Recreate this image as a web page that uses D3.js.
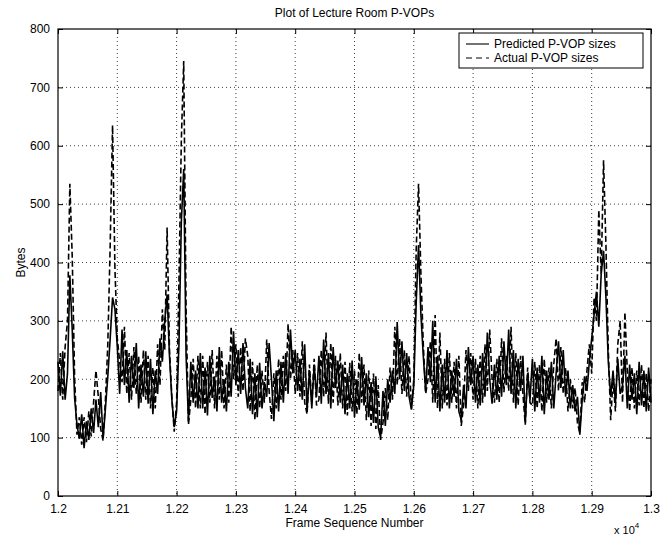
<!DOCTYPE html>
<html>
<head>
<meta charset="utf-8">
<script src="https://cdn.jsdelivr.net/npm/d3@7"></script>
<style>
  body { margin: 0; background: #fff; }
  text { font-family: "Liberation Sans", Arial, Helvetica, sans-serif; fill: #000; }
</style>
</head>
<body>
<svg id="chart" width="666" height="538"></svg>
<script>
// Frame sequence numbers: one sample every 4 frames from 12000 to 13000
const frameStart = 12000, frameEnd = 13000, frameStep = 4;

// Predicted P-VOP sizes (bytes)
const predicted = [
  230, 172, 248, 165, 210, 378, 285, 168, 122, 98,
  140, 82, 128, 96, 150, 108, 165, 118, 178, 98,
  150, 205, 270, 340, 320, 255, 175, 285, 190, 250,
  160, 240, 185, 262, 150, 225, 170, 248, 158, 235,
  140, 215, 175, 270, 230, 300, 345, 240, 165, 118,
  145, 260, 470, 560, 240, 128, 230, 160, 215, 150,
  245, 150, 220, 138, 240, 168, 205, 145, 255, 160,
  200, 145, 230, 170, 282, 190, 250, 175, 262, 185,
  150, 235, 140, 210, 135, 228, 150, 195, 170, 262,
  200, 128, 215, 145, 230, 160, 245, 175, 285, 210,
  250, 180, 235, 165, 260, 145, 215, 150, 225, 170,
  240, 158, 268, 175, 245, 150, 255, 185, 232, 160,
  225, 140, 210, 150, 232, 135, 200, 148, 238, 155,
  210, 135, 195, 125, 205, 118, 100, 180, 120, 200,
  160, 215, 175, 298, 200, 265, 180, 245, 170, 148,
  190, 330, 430, 310, 240, 180, 255, 195, 300, 160,
  240, 145, 225, 160, 250, 150, 215, 170, 235, 145,
  130, 190, 150, 255, 190, 240, 160, 225, 155, 245,
  170, 280, 200, 158, 225, 165, 240, 170, 265, 190,
  285, 175, 250, 150, 235, 180, 240, 125, 210, 165,
  235, 145, 220, 160, 240, 140, 215, 165, 230, 150,
  210, 265, 185, 250, 170, 215, 150, 190, 145, 170,
  105, 165, 205, 180, 230, 270, 310, 350, 290, 380,
  420, 340, 230, 170, 215, 160, 235, 175, 190, 240,
  150, 225, 165, 210, 140, 230, 155, 215, 145, 220,
  160
];

// Actual P-VOP sizes (bytes)
const actual = [
  180, 245, 165, 255, 300, 535, 410, 205, 105, 135,
  88, 135, 92, 145, 102, 160, 215, 170, 115, 95,
  165, 260, 430, 635, 390, 270, 230, 195, 290, 175,
  245, 165, 255, 175, 240, 160, 250, 165, 240, 150,
  220, 150, 260, 190, 320, 250, 460, 250, 170, 110,
  160, 370, 610, 745, 320, 122, 165, 235, 150, 240,
  150, 240, 140, 230, 160, 250, 150, 240, 165, 250,
  150, 225, 160, 290, 200, 260, 170, 255, 180, 270,
  240, 145, 230, 130, 225, 150, 215, 160, 268, 180,
  132, 210, 150, 235, 165, 240, 180, 295, 200, 250,
  175, 245, 170, 265, 160, 140, 225, 160, 235, 155,
  165, 250, 170, 280, 158, 262, 160, 240, 155, 245,
  150, 230, 138, 228, 145, 215, 140, 245, 160, 225,
  130, 215, 120, 210, 115, 190, 96, 125, 185, 130,
  220, 165, 290, 190, 270, 175, 250, 170, 240, 150,
  200, 420, 535, 380, 260, 175, 200, 265, 160, 310,
  150, 280, 150, 235, 155, 245, 160, 230, 150, 240,
  120, 155, 250, 180, 245, 165, 235, 150, 240, 160,
  260, 180, 285, 200, 160, 235, 160, 270, 178, 240,
  180, 290, 160, 245, 155, 240, 175, 122, 220, 160,
  155, 230, 150, 225, 145, 235, 160, 220, 150, 225,
  270, 180, 255, 175, 220, 145, 200, 150, 185, 125,
  108, 195, 160, 215, 260, 210, 340, 300, 490, 380,
  575, 430, 250, 130, 200, 145, 260, 300, 160, 315,
  215, 145, 220, 150, 215, 155, 225, 150, 210, 145,
  200
];

const xTicks = [12000, 12100, 12200, 12300, 12400, 12500, 12600, 12700, 12800, 12900, 13000];
const yTicks = [0, 100, 200, 300, 400, 500, 600, 700, 800];
const legendLabels = ["Predicted P-VOP sizes", "Actual P-VOP sizes"];

const frames = d3.range(frameStart, frameEnd + 1, frameStep);

const svg = d3.select("#chart");
const plotL = 58, plotR = 651, plotT = 29, plotB = 496;

const x = d3.scaleLinear().domain([frameStart, frameEnd]).range([plotL, plotR]);
const y = d3.scaleLinear().domain([0, 800]).range([plotB, plotT]);

// Dotted grid
const grid = svg.append("g").attr("stroke", "#000").attr("stroke-width", 1)
  .attr("stroke-dasharray", "1,3").attr("opacity", 0.75);
grid.selectAll(".gx").data(xTicks.slice(1, -1)).enter().append("line")
  .attr("x1", d => x(d)).attr("x2", d => x(d)).attr("y1", plotT).attr("y2", plotB);
grid.selectAll(".gy").data(yTicks.slice(1, -1)).enter().append("line")
  .attr("x1", plotL).attr("x2", plotR).attr("y1", d => y(d)).attr("y2", d => y(d));

// Series
const line = d3.line().x((d, i) => x(frames[i])).y(d => y(d));

svg.append("path").datum(predicted)
  .attr("fill", "none").attr("stroke", "#000").attr("stroke-width", 1.6)
  .attr("d", line);

svg.append("path").datum(actual)
  .attr("fill", "none").attr("stroke", "#000").attr("stroke-width", 1.6)
  .attr("stroke-dasharray", "6,3")
  .attr("d", line);

// Axes (ticks pointing inward, mirrored on top/right)
const fmtX = d => String(+(d / 1e4).toFixed(2));
svg.append("g").attr("transform", `translate(0,${plotB})`)
  .call(d3.axisBottom(x).tickValues(xTicks).tickFormat(fmtX).tickSizeInner(-5).tickSizeOuter(0).tickPadding(8));
svg.append("g").attr("transform", `translate(0,${plotT})`)
  .call(d3.axisTop(x).tickValues(xTicks).tickFormat("").tickSizeInner(-5).tickSizeOuter(0));
svg.append("g").attr("transform", `translate(${plotL},0)`)
  .call(d3.axisLeft(y).tickValues(yTicks).tickSizeInner(-5).tickSizeOuter(0).tickPadding(8));
svg.append("g").attr("transform", `translate(${plotR},0)`)
  .call(d3.axisRight(y).tickValues(yTicks).tickFormat("").tickSizeInner(-5).tickSizeOuter(0));

svg.selectAll(".domain").remove();
svg.selectAll(".tick line").attr("stroke", "#000");
svg.selectAll(".tick text").attr("font-size", 12).attr("fill", "#000")
  .style("font-family", "'Liberation Sans', Arial, sans-serif");

svg.append("rect").attr("x", plotL).attr("y", plotT)
  .attr("width", plotR - plotL).attr("height", plotB - plotT)
  .attr("fill", "none").attr("stroke", "#000").attr("stroke-width", 1.2);

// Titles
svg.append("text").attr("x", (plotL + plotR) / 2).attr("y", 17)
  .attr("text-anchor", "middle").attr("font-size", 12).text("Plot of Lecture Room P-VOPs");
svg.append("text").attr("x", (plotL + plotR) / 2).attr("y", 527)
  .attr("text-anchor", "middle").attr("font-size", 12).text("Frame Sequence Number");
svg.append("text").attr("transform", `translate(25,${(plotT + plotB) / 2}) rotate(-90)`)
  .attr("text-anchor", "middle").attr("font-size", 12).text("Bytes");

const expo = svg.append("text").attr("x", 614).attr("y", 534).attr("font-size", 11);
expo.append("tspan").text("x 10");
expo.append("tspan").attr("dy", -6).attr("font-size", 8).text("4");

// Legend
const legend = svg.append("g").attr("transform", "translate(459,33)");
legend.append("rect").attr("width", 184).attr("height", 35)
  .attr("fill", "#fff").attr("stroke", "#000").attr("stroke-width", 1);
legendLabels.forEach((label, i) => {
  const ly = 11 + i * 14;
  legend.append("line").attr("x1", 7).attr("x2", 30).attr("y1", ly).attr("y2", ly)
    .attr("stroke", "#000").attr("stroke-width", 1.1)
    .attr("stroke-dasharray", i === 1 ? "6,4" : null);
  legend.append("text").attr("x", 35).attr("y", ly + 4).attr("font-size", 12).text(label);
});
</script>
</body>
</html>
